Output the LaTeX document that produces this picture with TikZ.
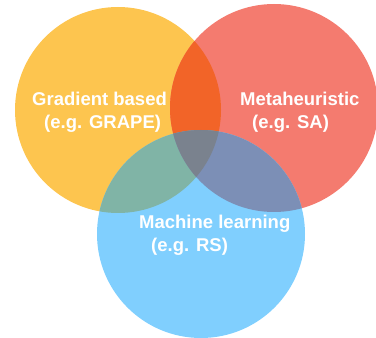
\documentclass[tikz,border=0pt]{standalone}
\usepackage{fontspec}
\setmainfont{Liberation Sans}
\definecolor{gradyellow}{HTML}{FDC54F}
\definecolor{metared}{HTML}{F47B6F}
\definecolor{mlblue}{HTML}{80CFFE}
\definecolor{gmorange}{HTML}{F26428}
\definecolor{gbgreen}{HTML}{80B4A6}
\definecolor{mbpurple}{HTML}{7C8FB6}
\definecolor{allgrey}{HTML}{7A828E}
\begin{document}
\begin{tikzpicture}[x=1pt, y=1pt,
	label/.style={anchor=north west, inner sep=0pt, align=left, text=white,
		font=\fontsize{18.5}{23}\selectfont\bfseries}]
	\clip (0,0) rectangle (376,338);
	% the three sets
	\fill[gradyellow] (118,228) circle (103);
	\fill[metared] (274,230) circle (104);
	\fill[mlblue] (201,104) circle (104);
	% overlaps
	\begin{scope}
		\clip (118,228) circle (103);
		\fill[gmorange] (274,230) circle (104);
		\fill[gbgreen] (201,104) circle (104);
	\end{scope}
	\begin{scope}
		\clip (274,230) circle (104);
		\fill[mbpurple] (201,104) circle (104);
		\clip (118,228) circle (103);
		\fill[allgrey] (201,104) circle (104);
	\end{scope}
	% labels
	\node[label] (grad) at (32,246) {Gradient based\\\hspace*{12pt}(e.g. GRAPE)};
	\node[label] (meta) at (240,246) {Metaheuristic\\\hspace*{12pt}(e.g. SA)};
	\node[label] (ml) at (139,123) {Machine learning\\\hspace*{12pt}(e.g. RS)};
\end{tikzpicture}
\end{document}
